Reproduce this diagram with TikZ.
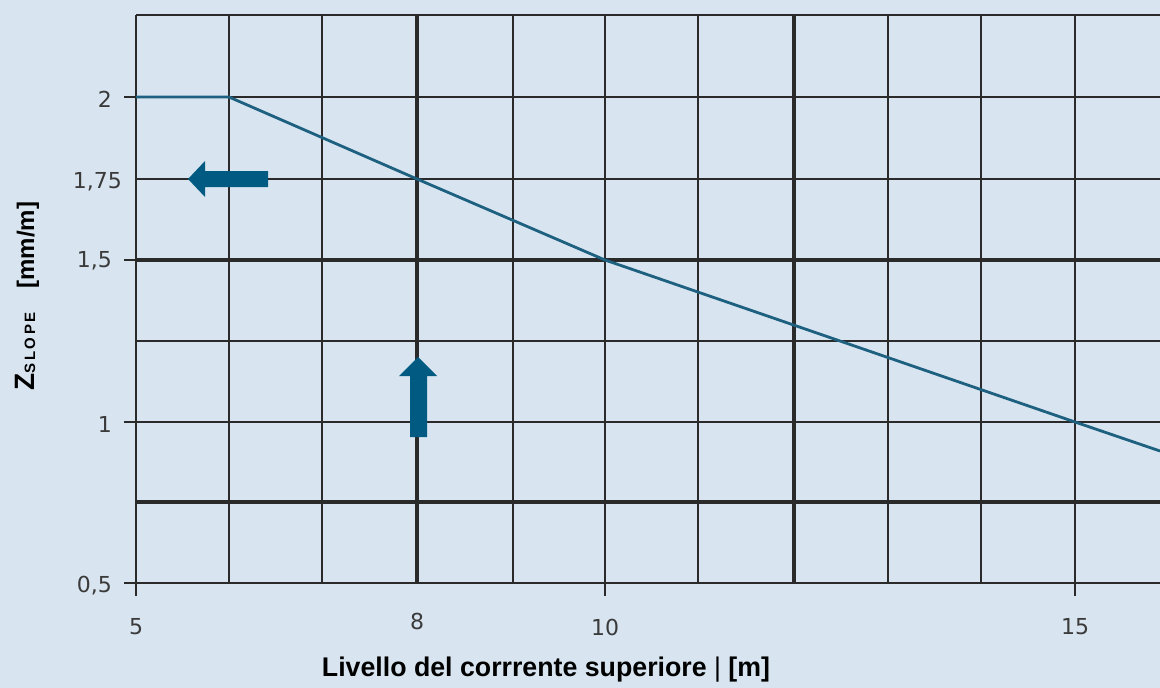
\documentclass[tikz,border=0pt]{standalone}
\usepackage{fontspec}
\setmainfont{DejaVu Sans}
\newfontfamily\titlefont{Liberation Sans}
\definecolor{bg}{HTML}{D8E5F0}
\definecolor{gridc}{HTML}{2A2A2A}
\definecolor{curve}{HTML}{1D6080}
\definecolor{arr}{HTML}{005A82}
\definecolor{lab}{HTML}{3A3A3A}
\tikzset{
  thingrid/.style={draw=gridc, line width=1.7pt},
  thickgrid/.style={draw=gridc, line width=3.2pt},
  tickline/.style={draw=gridc, line width=1.7pt},
  ylab/.style={anchor=east, text=lab, font=\fontsize{22}{22}\selectfont, inner sep=0pt},
  xlab/.style={anchor=center, text=lab, font=\fontsize{22}{22}\selectfont, inner sep=0pt},
  curveline/.style={draw=curve, line width=2.8pt, line join=round},
  blockarrow/.style={fill=arr, draw=none},
}
\begin{document}
\begin{tikzpicture}[x=1pt,y=-1pt]
\useasboundingbox (0,0) rectangle (1160,688);
\fill[bg] (0,0) rectangle (1160,688);
% thin vertical grid lines
\foreach \x in {136,229,322,513,605,698,888,981,1075}
  \draw[thingrid] (\x,15) -- (\x,583);
% thin horizontal grid lines
\foreach \y in {15,97,179,341,422,583}
  \draw[thingrid] (136,\y) -- (1160,\y);
% thick lines
\foreach \x in {417,794}
  \draw[thickgrid] (\x,15) -- (\x,583);
\foreach \y in {260,502}
  \draw[thickgrid] (136,\y) -- (1160,\y);
% ticks
\foreach \y in {97,260,422,583}
  \draw[tickline] (124,\y) -- (136,\y);
\foreach \x in {136,605,1075}
  \draw[tickline] (\x,583) -- (\x,596);
% y labels
\node[ylab] (y2) at (112,99) {2};
\node[ylab] (y175) at (122,182) {1,75};
\node[ylab] (y15) at (112,261) {1,5};
\node[ylab] (y1) at (112,424) {1};
\node[ylab] (y05) at (112,586) {0,5};
% x labels
\node[xlab] (x5) at (136,627) {5};
\node[xlab] (x8) at (417,621) {8};
\node[xlab] (x10) at (605,627) {10};
\node[xlab] (x15) at (1075,627) {15};
% curve
\draw[curveline] (136,97) -- (229,97) -- (417,179) -- (605,260) -- (1075,422) -- (1160,451);
% block arrows
\fill[blockarrow] (188,179) -- (205,161) -- (205,171) -- (268,171) -- (268,187) -- (205,187) -- (205,197) -- cycle;
\fill[blockarrow] (418,357) -- (437,376) -- (427,376) -- (427,437) -- (410,437) -- (410,376) -- (399,376) -- cycle;
% axis titles
\node[text=black, font=\titlefont\bfseries\fontsize{27}{27}\selectfont, inner sep=0pt] (xtitle) at (546,670)
  {\scalebox{0.99}[1]{Livello del corrrente superiore {\mdseries\textbar} [m]}};
\node[rotate=90, text=black, font=\titlefont\bfseries, inner sep=0pt] (ytitle) at (27,296)
  {\fontsize{28}{28}\selectfont Z\raisebox{-1pt}{\fontsize{15}{15}\selectfont S\,L\,O\,P\,E}\hspace{24pt}\fontsize{24}{24}\selectfont [mm/m]};
\end{tikzpicture}
\end{document}
